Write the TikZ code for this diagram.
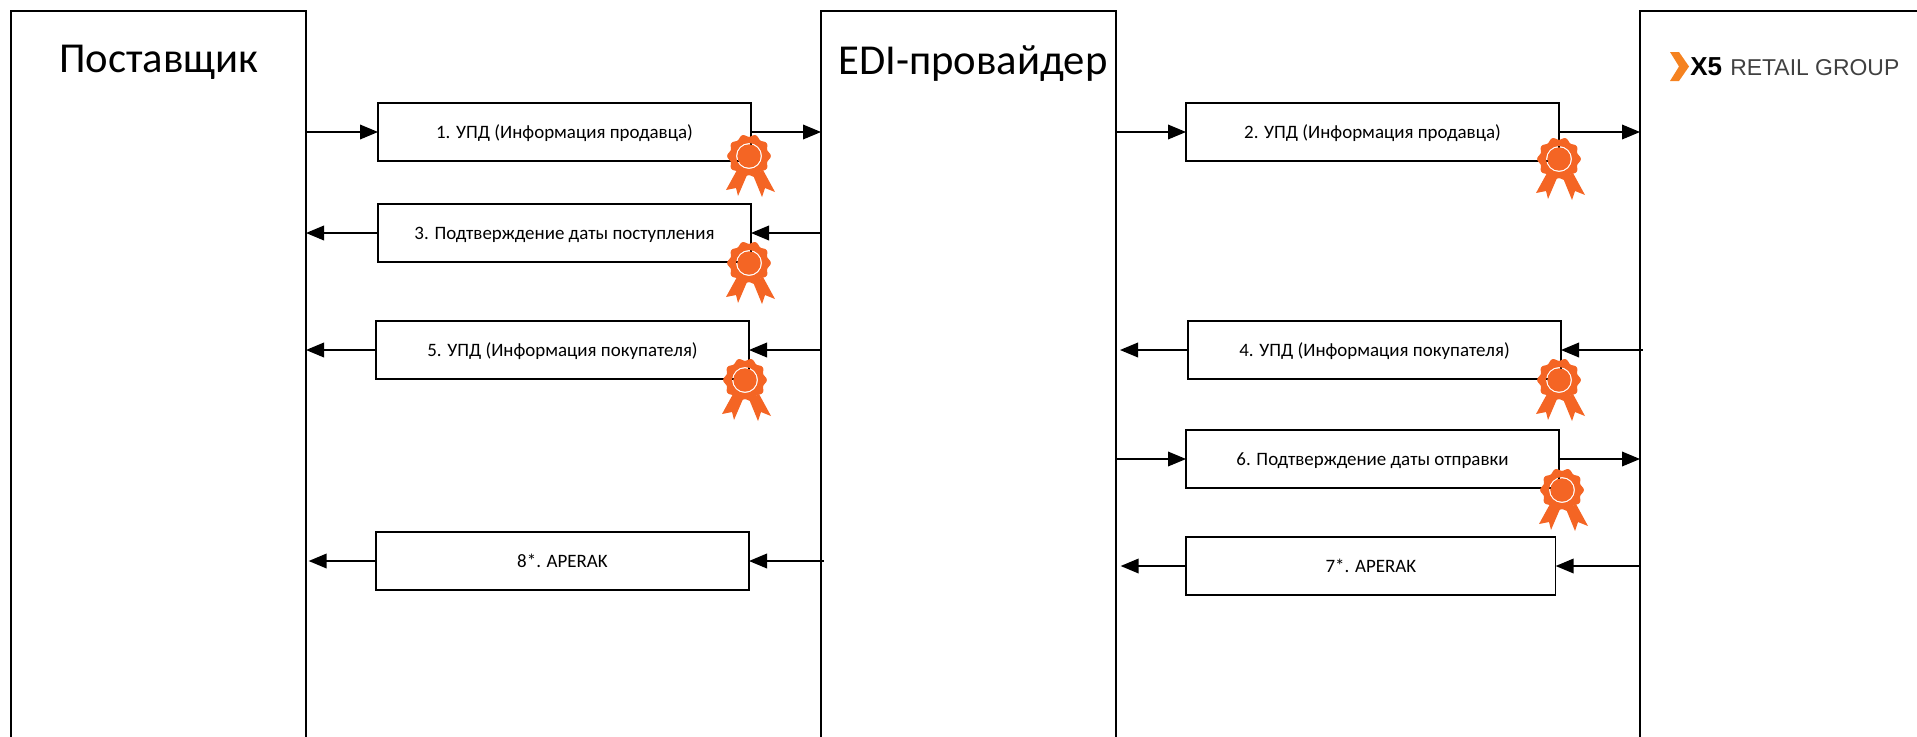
\documentclass[tikz,border=0pt]{standalone}
\usepackage{fontspec}
\setmainfont{Carlito}
\newfontfamily\logofont{Liberation Sans}
\usepackage{xcolor}
\usetikzlibrary{arrows.meta, positioning, calc}
\definecolor{sealorange}{HTML}{F46524}
\definecolor{logoorange}{HTML}{F58220}
\definecolor{logogray}{HTML}{404040}
\tikzset{
  seal/.pic={
    \fill[sealorange, even odd rule] plot[domain=0:360, samples=181] (\x:{20.5+1.3*cos(10*\x)}) -- cycle
      (0,0) circle[radius=13] (0,0) circle[radius=11.7];
    \fill[sealorange] (-12,14) -- (-23,34) -- (-13,32) -- (-11,40) -- (-2,19) -- cycle;
    \fill[sealorange] (4,19) -- (13,41) -- (16,32) -- (26,36) -- (14,14) -- cycle;
  }
}
\begin{document}
\begin{tikzpicture}[x=0.75pt, y=-0.75pt, node distance=0.3cm, font=\small]
    \tikzstyle{actor}=[rectangle, draw, line width=1.1pt, outer sep=0pt, minimum width=221.25pt, minimum height=750pt]
    \tikzstyle{msg}=[rectangle, draw, line width=1.1pt, outer sep=0pt, minimum width=279.75pt, minimum height=43.5pt, inner sep=0pt, text height=11pt, text depth=1.5pt, font=\fontsize{14.2}{16}\selectfont]
    \tikzstyle{title}=[anchor=base, inner sep=0pt, font=\fontsize{32}{38}\selectfont]
    \tikzstyle{flow}=[-{Triangle[length=13.5pt, width=11pt]}, line width=1.1pt]
    \useasboundingbox (0,0) rectangle (1917,736);
    \node[actor, anchor=north west] (post) at (11,11) {};
    \node[actor, right=386.25pt of post] (edi) {};
    \node[actor, right=393pt of edi, minimum width=300pt] (xfive) {};
    \node[title] (posttitle) at (159,72) {Поставщик};
    \node[title] (edititle) at (973,74) {EDI-провайдер};
    % messages on the left
    \node[msg, anchor=north west] (msgone) at (378,103) {1. УПД (Информация продавца)};
    \node[msg, below=32.25pt of msgone] (msgthree) {3. Подтверждение даты поступления};
    \node[msg, below=44.25pt of msgthree, xshift=-1.5pt] (msgfive) {5. УПД (Информация покупателя)};
    \node[msg, below=114.75pt of msgfive] (msgeight) {8*. APERAK};
    % messages on the right
    \node[msg, anchor=north west] (msgtwo) at (1186,103) {2. УПД (Информация продавца)};
    \node[msg, below=120pt of msgtwo, xshift=1.5pt] (msgfour) {4. УПД (Информация покупателя)};
    \node[msg, below=38.25pt of msgfour, xshift=-1.5pt] (msgsix) {6. Подтверждение даты отправки};
    \node[msg, below=36.75pt of msgsix, xshift=-1.25pt, minimum width=277.25pt] (msgseven) {7*. APERAK};
    \draw[flow] (post.east |- msgone.west) -- (msgone.west);
    \draw[flow] (msgone.east) -- (edi.west |- msgone.east);
    \draw[flow] (msgthree.west) -- (post.east |- msgthree.west);
    \draw[flow] (edi.west |- msgthree.east) -- (msgthree.east);
    \draw[flow] (msgfive.west) -- (post.east |- msgfive.west);
    \draw[flow] (edi.west |- msgfive.east) -- (msgfive.east);
    \draw[flow] (msgeight.west) -- ([xshift=2pt]post.east |- msgeight.west);
    \draw[flow] ([xshift=2pt]edi.west |- msgeight.east) -- (msgeight.east);
    \draw[flow] (edi.east |- msgtwo.west) -- (msgtwo.west);
    \draw[flow] (msgtwo.east) -- (xfive.west |- msgtwo.east);
    \draw[flow] (msgfour.west) -- ([xshift=3pt]edi.east |- msgfour.west);
    \draw[flow] ([xshift=2pt]xfive.west |- msgfour.east) -- (msgfour.east);
    \draw[flow] (edi.east |- msgsix.west) -- (msgsix.west);
    \draw[flow] (msgsix.east) -- (xfive.west |- msgsix.east);
    \draw[flow] (msgseven.west) -- ([xshift=3.5pt]edi.east |- msgseven.west);
    \draw[flow] (xfive.west |- msgseven.east) -- (msgseven.east);
    \pic at ($(msgone.south east)+(-2,-5)$) {seal};
    \pic at ($(msgthree.south east)+(-2,1)$) {seal};
    \pic at ($(msgfive.south east)+(-4,1)$) {seal};
    \pic at ($(msgtwo.south east)+(0,-2)$) {seal};
    \pic at ($(msgfour.south east)+(-2,1)$) {seal};
    \pic at ($(msgsix.south east)+(3,2)$) {seal};
    % logo
    \fill[logoorange] (1670,52) -- (1679,52) -- (1689,66.5) -- (1679,81) -- (1670,81) -- (1679,66.5) -- cycle;
    \node[anchor=base west, inner sep=0pt, text=black, font=\logofont\bfseries\fontsize{19.5}{20}\selectfont] (logomark) at (1690,75) {X5};
    \node[anchor=base west, inner sep=0pt, text=logogray, font=\logofont\fontsize{17.2}{20}\selectfont] (logoname) at (1730,75) {RETAIL GROUP};
  \end{tikzpicture}
\end{document}
